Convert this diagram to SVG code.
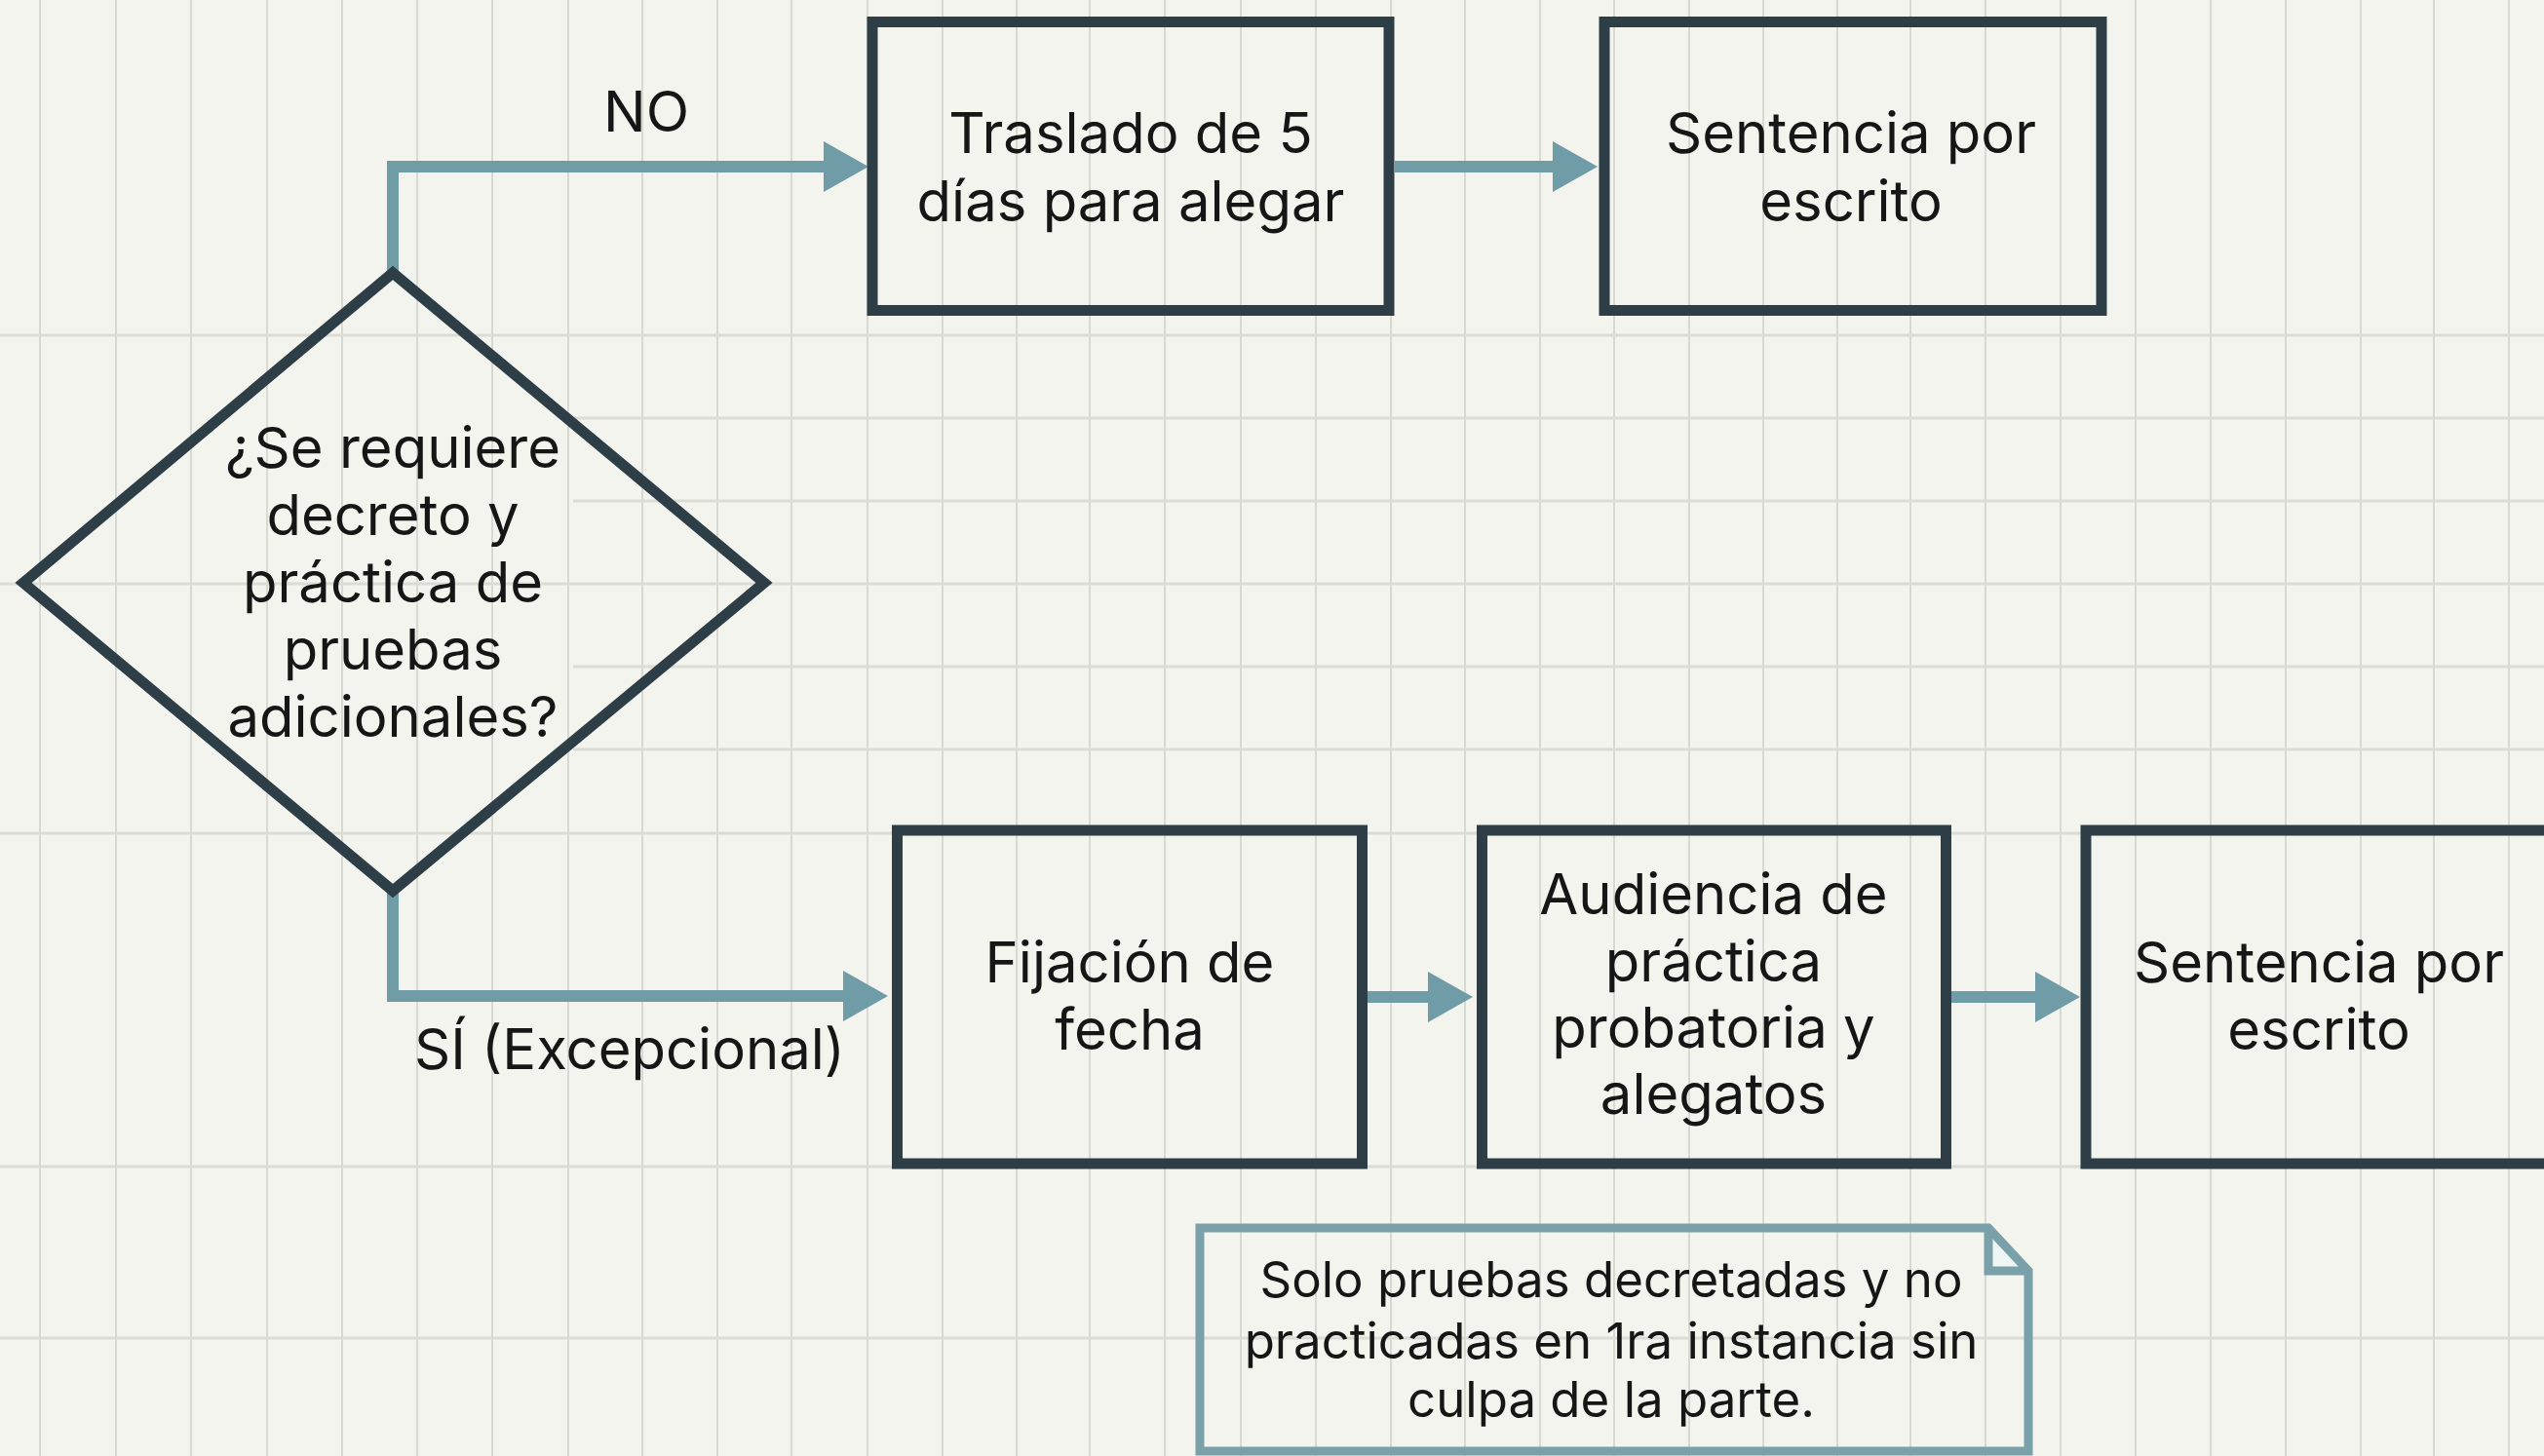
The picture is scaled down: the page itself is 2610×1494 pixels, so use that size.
<svg xmlns="http://www.w3.org/2000/svg" width="2610" height="1494" viewBox="0 0 2610 1494">
<style>
.bg{fill:#f4f4ef}
.gv{stroke:#d9d9d3;stroke-width:2;fill:none}
.gh{stroke:#dcdcd6;stroke-width:3;fill:none}
.box{fill:none;stroke:#2d3e47;stroke-width:11;stroke-linejoin:miter}
.conn{fill:none;stroke:#6f9ca6;stroke-width:12;stroke-linejoin:miter;stroke-linecap:butt}
.note{fill:none;stroke:#7aa1a9;stroke-width:9;stroke-linejoin:miter}
.t{font-family:Inter,"Liberation Sans",sans-serif;font-size:58px;fill:#161616;text-anchor:middle}
.tn{font-family:Inter,"Liberation Sans",sans-serif;font-size:51px;fill:#161616;text-anchor:middle}
</style>
<defs>
<marker id="ah" markerUnits="userSpaceOnUse" markerWidth="50" markerHeight="56" refX="1" refY="27" orient="auto">
<path d="M0,1 L46,27 L0,53 Z" fill="#6f9ca6"/>
</marker>
</defs>
<rect class="bg" x="0" y="0" width="2610" height="1494"/>
<g id="grid">
<path class="gv" d="M41,0V1494M119,0V1494M196,0V1494M274,0V1494M351,0V1494M428,0V1494M505,0V1494M583,0V1494M659,0V1494M736,0V1494M812,0V1494M890,0V1494M967,0V1494M1043,0V1494M1118,0V1494M1195,0V1494M1273,0V1494M1350,0V1494M1427,0V1494M1503,0V1494M1580,0V1494M1656,0V1494M1733,0V1494M1809,0V1494M1885,0V1494M1960,0V1494M2037,0V1494M2114,0V1494M2191,0V1494M2268,0V1494M2345,0V1494M2422,0V1494M2497,0V1494M2574,0V1494"/>
<path class="gh" d="M0,344H2610M0,599H2610M0,855H2610M0,1197H2610M0,1373H2610M588,429H2610M588,514H2610M588,684H2610M588,769H2610"/>
</g>
<g id="connectors">
<path class="conn" d="M403,282V171H846" marker-end="url(#ah)"/>
<path class="conn" d="M1431,171H1594" marker-end="url(#ah)"/>
<path class="conn" d="M403,912V1022H866" marker-end="url(#ah)"/>
<path class="conn" d="M1403,1023H1466" marker-end="url(#ah)"/>
<path class="conn" d="M2002,1023H2089" marker-end="url(#ah)"/>
<text class="t" x="663" y="135">NO</text>
<text class="t" x="646" y="1097">SÍ (Excepcional)</text>
</g>
<g id="decision">
<polygon class="box" points="403,280 784,598 403,914 24,598"/>
<text class="t" x="403" y="480">¿Se requiere</text>
<text class="t" x="403" y="549">decreto y</text>
<text class="t" x="403" y="618">práctica de</text>
<text class="t" x="403" y="687">pruebas</text>
<text class="t" x="403" y="756">adicionales?</text>
</g>
<g id="traslado">
<rect class="box" x="895" y="22.5" width="530" height="296"/>
<text class="t" x="1160" y="157">Traslado de 5</text>
<text class="t" x="1160" y="227">días para alegar</text>
</g>
<g id="sentencia1">
<rect class="box" x="1646" y="22.5" width="510" height="296"/>
<text class="t" x="1899" y="157">Sentencia por</text>
<text class="t" x="1899" y="227">escrito</text>
</g>
<g id="fijacion">
<rect class="box" x="920.5" y="852" width="477" height="342"/>
<text class="t" x="1159" y="1008">Fijación de</text>
<text class="t" x="1159" y="1077">fecha</text>
</g>
<g id="audiencia">
<rect class="box" x="1520.5" y="852" width="476" height="342"/>
<text class="t" x="1758" y="938">Audiencia de</text>
<text class="t" x="1758" y="1007">práctica</text>
<text class="t" x="1758" y="1075">probatoria y</text>
<text class="t" x="1758" y="1143">alegatos</text>
</g>
<g id="sentencia2">
<rect class="box" x="2140" y="852" width="477" height="342"/>
<text class="t" x="2379" y="1008">Sentencia por</text>
<text class="t" x="2379" y="1077">escrito</text>
</g>
<g id="nota">
<path d="M2040,1260 L2081,1304 H2040 Z" fill="#eef5f5"/>
<path class="note" d="M1231,1260 H2040 L2081,1304 V1489 H1231 Z"/>
<path class="note" d="M2040,1260 V1304 H2081"/>
<text class="tn" x="1653" y="1331">Solo pruebas decretadas y no</text>
<text class="tn" x="1653" y="1394">practicadas en 1ra instancia sin</text>
<text class="tn" x="1653" y="1454">culpa de la parte.</text>
</g>
</svg>
